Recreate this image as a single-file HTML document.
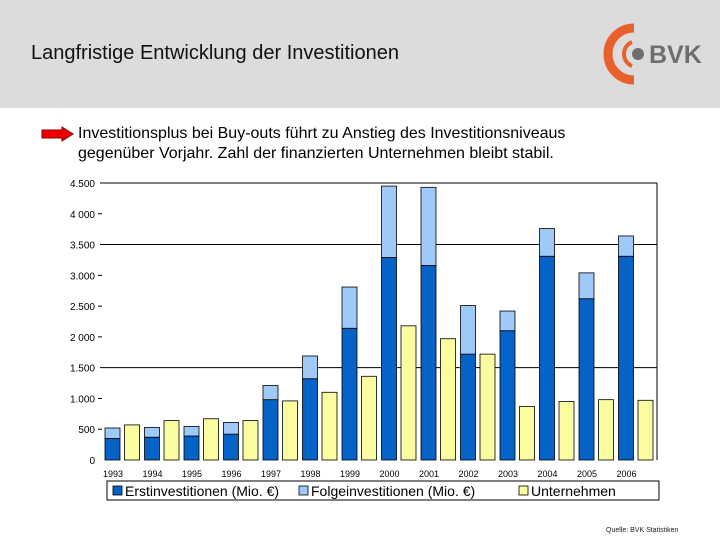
<!DOCTYPE html>
<html><head><meta charset="utf-8"><style>
body{margin:0;width:720px;height:540px;background:#fff;font-family:"Liberation Sans",sans-serif;overflow:hidden;position:relative}
.hdr{position:absolute;left:0;top:0;width:720px;height:108px;background:#dcdcdc}
.title{position:absolute;left:31px;top:42px;font-size:20px;color:#111}
.txt{position:absolute;left:78px;top:124px;font-size:16px;line-height:20px;color:#000}
.src{position:absolute;left:606px;top:527px;font-size:7px;color:#222}
</style></head><body>
<div class="hdr"></div>
<div class="title">Langfristige Entwicklung der Investitionen</div>
<svg style="position:absolute;left:596px;top:20px" width="124" height="66">
<path d="M38 8 A26 26 0 1 0 38 60" fill="none" stroke="#e8602c" stroke-width="9"/>
<path d="M36 22 A13 13 0 0 0 36 46" fill="none" stroke="#e8602c" stroke-width="4"/>
<circle cx="42" cy="34" r="6" fill="#6e6e6e"/>
<text x="53" y="43" font-family="Liberation Sans" font-weight="bold" font-size="25" fill="#6e6e6e">BVK</text>
</svg>
<svg style="position:absolute;left:41px;top:126px" width="34" height="16"><path d="M1 4H21V1L32 8 21 15V12H1Z" fill="#e00" stroke="#800" stroke-width="1"/></svg>
<div class="txt">Investitionsplus bei Buy-outs führt zu Anstieg des Investitionsniveaus<br>gegenüber Vorjahr. Zahl der finanzierten Unternehmen bleibt stabil.</div>
<svg id="chart" style="position:absolute;left:0;top:0" width="720" height="540"></svg>
<div class="src">Quelle: BVK Statistiken</div>
<script>
const years=["1993","1994","1995","1996","1997","1998","1999","2000","2001","2002","2003","2004","2005","2006"];
const erst=[350,370,390,420,980,1320,2140,3290,3160,1720,2100,3310,2620,3310];
const folge=[170,160,155,190,230,370,670,1160,1270,790,320,450,420,330];
const unternehmen=[570,640,670,640,960,1100,1360,2180,1970,1720,870,950,980,970];
const ticks=[0,500,1000,1500,2000,2500,3000,3500,4000,4500];
const tickLabels=["0","500","1.000","1.500","2 000","2.500","3.000","3.500","4 000","4.500"];
const gridVals=[1500,3500,4500];
const svg=document.getElementById('chart');const NS='http://www.w3.org/2000/svg';
const y0=460,y1=183,x0=100,xr=657,gw=39.5,bw=15;
const y=v=>y0-(v/4500)*(y0-y1);
const x=i=>x0+5+i*gw;
function el(t,a,p){const e=document.createElementNS(NS,t);for(const k in a)e.setAttribute(k,a[k]);(p||svg).appendChild(e);return e;}
gridVals.forEach(v=>{const g=el('line',{x1:x0,x2:xr,y1:y(v),y2:y(v),stroke:'#000','stroke-width':1});

});
ticks.forEach((v,i)=>{const t=el('text',{x:95,y:y(v)+4,'text-anchor':'end','font-size':10,'font-family':'Liberation Sans',fill:'#000'});t.textContent=tickLabels[i];


if(v>0&&gridVals.indexOf(v)<0){const m=el('line',{x1:98,x2:102,y1:y(v),y2:y(v),stroke:'#000'});}});
const r=el('line',{x1:xr,x2:xr,y1:y1,y2:y0,stroke:'#000'});
years.forEach((yr,i)=>{
const b1=el('rect',{x:x(i),y:y(erst[i]),width:bw,height:y0-y(erst[i]),fill:'#0563c8',stroke:'#000','stroke-width':0.8});


const b2=el('rect',{x:x(i),y:y(erst[i]+folge[i]),width:bw,height:y(erst[i])-y(erst[i]+folge[i]),fill:'#9fcaf8',stroke:'#000','stroke-width':0.8});


const b3=el('rect',{x:x(i)+19.5,y:y(unternehmen[i]),width:bw,height:y0-y(unternehmen[i]),fill:'#fbfba0',stroke:'#000','stroke-width':0.8});


const t=el('text',{x:x(i)+8,y:477,'text-anchor':'middle','font-size':9,'font-family':'Liberation Sans',fill:'#000'});t.textContent=yr;


});
const lg=el('rect',{x:107,y:481,width:552,height:19,fill:'#fff',stroke:'#000'});


[["#0563c8","Erstinvestitionen (Mio. €)",113],["#9fcaf8","Folgeinvestitionen (Mio. €)",299],["#fbfba0","Unternehmen",519]].forEach(a=>{
const s=el('rect',{x:a[2],y:486,width:9,height:9,fill:a[0],stroke:'#000','stroke-width':0.8});


const t=el('text',{x:a[2]+12,y:496,'font-size':14,'font-family':'Liberation Sans',fill:'#000'});t.textContent=a[1];

});
</script>
</body></html>
